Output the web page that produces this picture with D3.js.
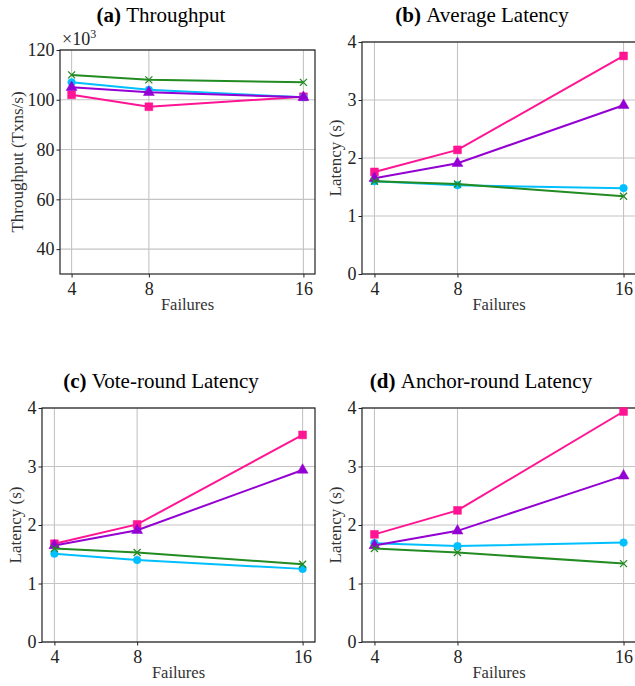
<!DOCTYPE html>
<html>
<head>
<meta charset="utf-8">
<script src="https://d3js.org/d3.v7.min.js"></script>
<style>
  body { margin: 0; background: #fff; }
</style>
</head>
<body>
<div id="chart"></div>
<script>
  var serif = "'Liberation Serif', 'DejaVu Serif', serif";

  // x values shared by every panel
  var failures = [4, 8, 16];
  var xTicks = [4, 8, 16];

  // (a) throughput, in thousands of txns/s
  var tputPink   = [102, 97.2, 101.2];
  var tputCyan   = [107, 104, 101];
  var tputPurple = [105, 103, 101];
  var tputGreen  = [110, 108, 107];
  var tputTicks  = [40, 60, 80, 100, 120];

  // (b) average latency (s)
  var avgPink   = [1.76, 2.14, 3.76];
  var avgCyan   = [1.60, 1.53, 1.48];
  var avgPurple = [1.65, 1.91, 2.91];
  var avgGreen  = [1.60, 1.55, 1.34];

  // (c) vote-round latency (s)
  var votePink   = [1.68, 2.01, 3.54];
  var voteCyan   = [1.51, 1.40, 1.25];
  var votePurple = [1.65, 1.91, 2.94];
  var voteGreen  = [1.60, 1.53, 1.33];

  // (d) anchor-round latency (s)
  var anchorPink   = [1.84, 2.25, 3.94];
  var anchorCyan   = [1.69, 1.64, 1.70];
  var anchorPurple = [1.65, 1.90, 2.84];
  var anchorGreen  = [1.60, 1.53, 1.34];

  var latTicks = [0, 1, 2, 3, 4];

  // series styles, drawn in this order
  var seriesStyle = [
    {color: "#ff1493", symbol: d3.symbolSquare,   size: 62, stroked: false},
    {color: "#00bfff", symbol: d3.symbolCircle,   size: 46, stroked: false},
    {color: "#9400d3", symbol: d3.symbolTriangle, size: 52, stroked: false},
    {color: "#228b22", symbol: d3.symbolX,        size: 34, stroked: true}
  ];

  var svg = d3.select("#chart")
    .append("svg")
    .attr("width", 635)
    .attr("height", 686)
    .style("font-family", serif);

  var panels = [
    {tag: "(a)", title: "Throughput", cx: 161, ty: 22,
     left: 60, right: 315, top: 50, bottom: 274,
     yDomain: [30, 120], yTicks: tputTicks, ylabel: "Throughput (Txns/s)", ylx: 17,
     series: [tputPink, tputCyan, tputPurple, tputGreen], offset: true},
    {tag: "(b)", title: "Average Latency", cx: 482, ty: 22,
     left: 362, right: 636, top: 42, bottom: 274,
     yDomain: [0, 4], yTicks: latTicks, ylabel: "Latency (s)", ylx: 335,
     series: [avgPink, avgCyan, avgPurple, avgGreen]},
    {tag: "(c)", title: "Vote-round Latency", cx: 161, ty: 388,
     left: 42, right: 315, top: 408, bottom: 642,
     yDomain: [0, 4], yTicks: latTicks, ylabel: "Latency (s)", ylx: 15,
     series: [votePink, voteCyan, votePurple, voteGreen]},
    {tag: "(d)", title: "Anchor-round Latency", cx: 481, ty: 388,
     left: 362, right: 636, top: 408, bottom: 642,
     yDomain: [0, 4], yTicks: latTicks, ylabel: "Latency (s)", ylx: 335,
     series: [anchorPink, anchorCyan, anchorPurple, anchorGreen]}
  ];

  panels.forEach(function(p){
    var x = d3.scaleLinear().domain([3.4, 16.6]).range([p.left, p.right]);
    var y = d3.scaleLinear().domain(p.yDomain).range([p.bottom, p.top]);
    var g = svg.append("g");

    // title
    var t = g.append("text")
      .attr("x", p.cx)
      .attr("y", p.ty)
      .attr("text-anchor", "middle")
      .style("font-family", serif)
      .style("font-size", "21px")
      .style("fill", "#000");
    t.append("tspan").attr("font-weight", "bold").text(p.tag + " ");
    t.append("tspan").text(p.title);

    // grid
    g.selectAll(".gx")
      .data(xTicks)
      .enter()
      .append("line")
      .attr("x1", function(d){ return x(d); })
      .attr("x2", function(d){ return x(d); })
      .attr("y1", p.top)
      .attr("y2", p.bottom)
      .attr("stroke", "#c4c4c4")
      .attr("stroke-width", 1.1);

    g.selectAll(".gy")
      .data(p.yTicks)
      .enter()
      .append("line")
      .attr("x1", p.left)
      .attr("x2", p.right)
      .attr("y1", function(d){ return y(d); })
      .attr("y2", function(d){ return y(d); })
      .attr("stroke", "#c4c4c4")
      .attr("stroke-width", 1.1);

    // axes
    var xAxis = g.append("g")
      .attr("transform", "translate(0," + p.bottom + ")")
      .call(d3.axisBottom(x).tickValues(xTicks).tickFormat(d3.format("d")).tickSize(3.5).tickPadding(2));
    var yAxis = g.append("g")
      .attr("transform", "translate(" + p.left + ",0)")
      .call(d3.axisLeft(y).tickValues(p.yTicks).tickFormat(d3.format("d")).tickSize(3.5).tickPadding(2));
    [xAxis, yAxis].forEach(function(a){
      a.attr("font-family", null).attr("font-size", null);
      a.select(".domain").remove();
      a.selectAll("line").attr("stroke", "#222").attr("stroke-width", 1);
      a.selectAll("text")
        .style("font-size", "18px")
        .style("font-family", serif)
        .attr("fill", "#222");
    });
    xAxis.selectAll("text").attr("dy", "0.85em");

    // frame
    g.append("rect")
      .attr("x", p.left)
      .attr("y", p.top)
      .attr("width", p.right - p.left)
      .attr("height", p.bottom - p.top)
      .attr("fill", "none")
      .attr("stroke", "#222")
      .attr("stroke-width", 1.2);

    // axis labels
    g.append("text")
      .attr("x", (p.left + p.right) / 2)
      .attr("y", p.bottom + 36)
      .attr("text-anchor", "middle")
      .style("font-family", serif)
      .style("font-size", "16.5px")
      .style("fill", "#333")
      .text("Failures");

    g.append("text")
      .attr("transform", "translate(" + p.ylx + "," + ((p.top + p.bottom) / 2) + ") rotate(-90)")
      .attr("text-anchor", "middle")
      .attr("dy", "0.35em")
      .style("font-family", serif)
      .style("font-size", "17px")
      .style("fill", "#333")
      .text(p.ylabel);

    if(p.offset){
      var o = g.append("text")
        .attr("x", p.left + 2)
        .attr("y", p.top - 5)
        .style("font-family", serif)
        .style("font-size", "18px")
        .style("fill", "#222");
      o.append("tspan").text("\u00d710");
      o.append("tspan").attr("dy", -7).style("font-size", "12px").text("3");
    }

    // series
    var line = d3.line()
      .x(function(d, i){ return x(failures[i]); })
      .y(function(d){ return y(d); });

    p.series.forEach(function(vals, k){
      var s = seriesStyle[k];
      g.append("path")
        .datum(vals)
        .attr("d", line)
        .attr("fill", "none")
        .attr("stroke", s.color)
        .attr("stroke-width", 2);

      g.selectAll(".m" + k)
        .data(vals)
        .enter()
        .append("path")
        .attr("transform", function(d, i){ return "translate(" + x(failures[i]) + "," + y(d) + ")"; })
        .attr("d", d3.symbol().type(s.symbol).size(s.size))
        .attr("fill", s.stroked ? "none" : s.color)
        .attr("stroke", s.color)
        .attr("stroke-width", s.stroked ? 1.3 : 0.5);
    });
  });
</script>
</body>
</html>
